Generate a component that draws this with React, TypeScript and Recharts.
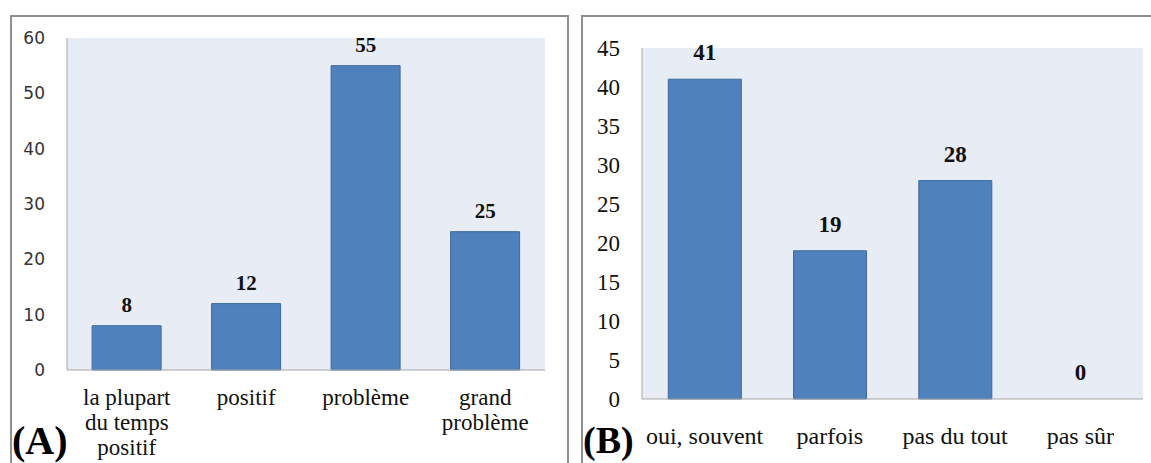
import React from "react";
import {
  ComposedChart,
  Bar,
  Line,
  XAxis,
  YAxis,
  CartesianGrid,
  LabelList,
} from "recharts";

// (A) attitude
const attitudeCategories = [
  "la plupart\ndu temps\npositif",
  "positif",
  "problème",
  "grand\nproblème",
];
const attitudeValues = [8, 12, 55, 25];
const attitudeTicks = [0, 10, 20, 30, 40, 50, 60];

// (B) frequency
const frequencyCategories = ["oui, souvent", "parfois", "pas du tout", "pas sûr"];
const frequencyValues = [41, 19, 28, 0];
const frequencyTicks = [0, 5, 10, 15, 20, 25, 30, 35, 40, 45];

const SERIF = "'Liberation Serif', 'Times New Roman', serif";
const SANS = "'DejaVu Sans', Verdana, sans-serif";
const BAR_FILL = "#4F81BD";
const BAR_STROKE = "#3C6A9F";
const PLOT_BG = "#E8ECF4";
const AXIS_GRAY = "#A6A6A6";
const BORDER = "2px solid #8F8F8F";

const MultiLineTick = (props: any) => {
  const { x, y, payload, fontSize, firstLine, lineGap } = props;
  const lines = String(payload.value).split("\n");
  return (
    <text
      x={x}
      y={y + firstLine}
      textAnchor="middle"
      fontFamily={SERIF}
      fontSize={fontSize}
      fill="#111"
    >
      {lines.map((l, i) => (
        <tspan key={i} x={x} dy={i === 0 ? 0 : lineGap}>
          {l}
        </tspan>
      ))}
    </text>
  );
};

// value labels ride on an invisible line so the zero bar still gets one
const ValueLabels = ({ offset, fontSize }: { offset: number; fontSize: number }) => (
  <Line
    dataKey="value"
    stroke="none"
    dot={false}
    activeDot={false}
    isAnimationActive={false}
  >
    <LabelList
      dataKey="value"
      position="top"
      offset={offset}
      fill="#111"
      fontSize={fontSize}
      fontWeight="bold"
      fontFamily={SERIF}
    />
  </Line>
);

const AttitudeChart = () => {
  const data = attitudeCategories.map((name, i) => ({
    name,
    value: attitudeValues[i],
  }));
  return (
    <div style={{ position: "absolute", left: 0, top: 0 }}>
      <ComposedChart
        width={569}
        height={463}
        data={data}
        margin={{ top: 38, right: 24, bottom: 13, left: 17 }}
        barCategoryGap="21%"
      >
        <CartesianGrid fill={PLOT_BG} horizontal={false} vertical={false} />
        <XAxis
          dataKey="name"
          height={80}
          interval={0}
          tickSize={0}
          tickMargin={0}
          stroke={AXIS_GRAY}
          tick={(p: any) => (
            <MultiLineTick {...p} fontSize={23} firstLine={35} lineGap={25} />
          )}
        />
        <YAxis
          width={50}
          domain={[0, 60]}
          ticks={attitudeTicks}
          tickSize={0}
          tickMargin={22}
          stroke={AXIS_GRAY}
          tick={{ fill: "#333", fontSize: 17, fontFamily: SANS }}
        />
        <Bar
          dataKey="value"
          fill={BAR_FILL}
          stroke={BAR_STROKE}
          isAnimationActive={false}
        />
        {ValueLabels({ offset: 14, fontSize: 21 })}
      </ComposedChart>
    </div>
  );
};

const FrequencyChart = () => {
  const data = frequencyCategories.map((name, i) => ({
    name,
    value: frequencyValues[i],
  }));
  return (
    <div style={{ position: "absolute", left: 570, top: 0 }}>
      <ComposedChart
        width={581}
        height={463}
        data={data}
        margin={{ top: 48, right: 8, bottom: 14, left: 22 }}
        barCategoryGap="21%"
      >
        <CartesianGrid fill={PLOT_BG} horizontal={false} vertical={false} />
        <XAxis
          dataKey="name"
          height={50}
          interval={0}
          tickSize={0}
          tickMargin={0}
          stroke={AXIS_GRAY}
          tick={(p: any) => (
            <MultiLineTick {...p} fontSize={24} firstLine={45} lineGap={26} />
          )}
        />
        <YAxis
          width={50}
          domain={[0, 45]}
          ticks={frequencyTicks}
          tickSize={0}
          tickMargin={22}
          stroke={AXIS_GRAY}
          tick={{ fill: "#111", fontSize: 23, fontFamily: SERIF }}
        />
        <Bar
          dataKey="value"
          fill={BAR_FILL}
          stroke={BAR_STROKE}
          isAnimationActive={false}
        />
        {ValueLabels({ offset: 19, fontSize: 23 })}
      </ComposedChart>
    </div>
  );
};

const panelLetter: React.CSSProperties = {
  position: "absolute",
  fontFamily: SERIF,
  fontWeight: "bold",
  color: "#000",
  lineHeight: 1,
};

export default function App() {
  return (
    <div
      style={{
        position: "absolute",
        left: 0,
        top: 0,
        width: 1151,
        height: 463,
        overflow: "hidden",
        background: "#fff",
      }}
    >
      <div
        style={{
          position: "absolute",
          left: 10,
          top: 15,
          width: 555,
          height: 470,
          border: BORDER,
        }}
      />
      <div
        style={{
          position: "absolute",
          left: 581,
          top: 15,
          width: 600,
          height: 470,
          border: BORDER,
        }}
      />
      <AttitudeChart />
      <FrequencyChart />
      <div style={{ ...panelLetter, left: 12, top: 421, fontSize: 40 }}>(A)</div>
      <div style={{ ...panelLetter, left: 583, top: 421, fontSize: 38 }}>(B)</div>
    </div>
  );
}
